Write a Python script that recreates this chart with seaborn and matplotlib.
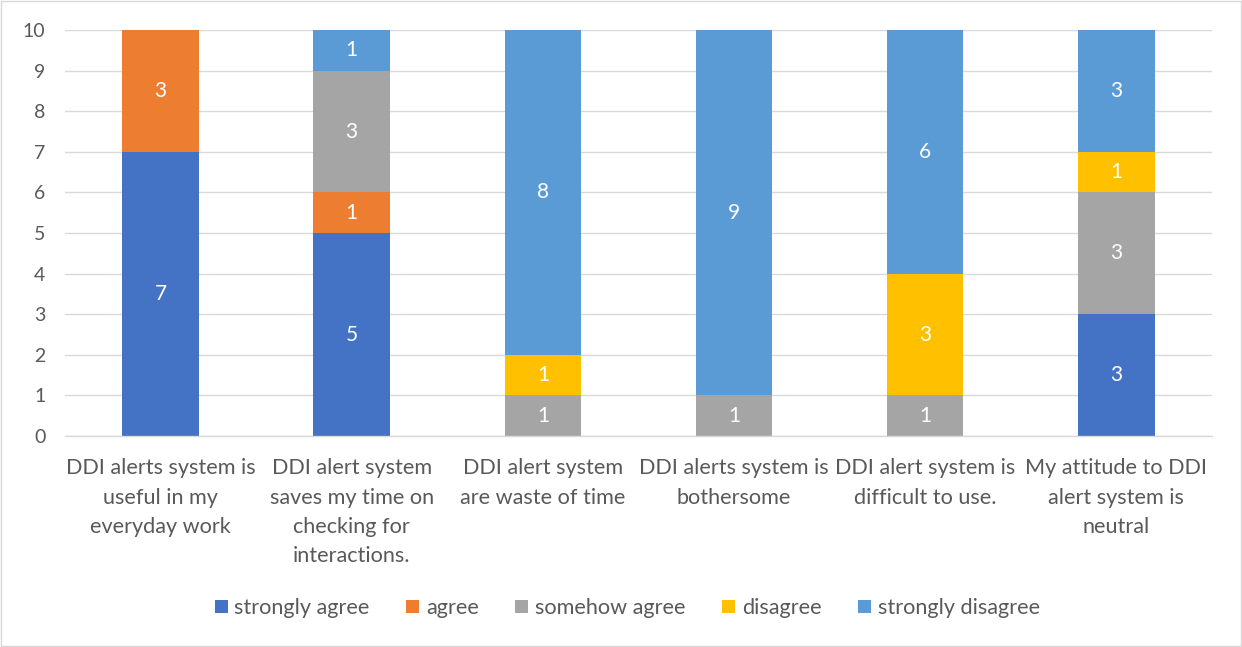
import numpy as np
import pandas as pd
import matplotlib
matplotlib.use("Agg")
import matplotlib.pyplot as plt
from matplotlib.patches import Patch, Rectangle
import seaborn as sns

categories = [
    "DDI alerts system is\nuseful in my\neveryday work",
    "DDI alert system\nsaves my time on\nchecking for\ninteractions.",
    "DDI alert system\nare waste of time",
    "DDI alerts system is\nbothersome",
    "DDI alert system is\ndifficult to use.",
    "My attitude to DDI\nalert system is\nneutral",
]
series_names = ["strongly agree", "agree", "somehow agree", "disagree", "strongly disagree"]
strongly_agree = [7, 5, 0, 0, 0, 3]
agree = [3, 1, 0, 0, 0, 0]
somehow_agree = [0, 3, 1, 1, 1, 3]
disagree = [0, 0, 1, 0, 3, 1]
strongly_disagree = [0, 1, 8, 9, 6, 3]
y_ticks = list(range(0, 11))

colors = ["#4472C4", "#ED7D31", "#A5A5A5", "#FFC000", "#5B9BD5"]
text_color = "#595959"

sns.set_theme(style="white")
plt.rcParams["font.family"] = ["Lato", "DejaVu Sans"]

values = [strongly_agree, agree, somehow_agree, disagree, strongly_disagree]
df = pd.DataFrame({name: vals for name, vals in zip(series_names, values)})
df["category"] = categories
cum = df[series_names].cumsum(axis=1)

fig = plt.figure(figsize=(12.42, 6.47), dpi=100)
ax = fig.add_axes([0.0523, 0.3261, 0.9235, 0.6275])

# Stacked bars: draw cumulative totals from the top segment down
for name, color in reversed(list(zip(series_names, colors))):
    sns.barplot(x=df["category"], y=cum[name], color=color, width=0.4,
                saturation=1, ax=ax, linewidth=0, order=categories)

# Segment value labels
for i in range(len(categories)):
    bottom = 0
    for name in series_names:
        v = df[name].iloc[i]
        if v > 0:
            ax.text(i, bottom + v / 2, f"{v}", ha="center", va="center",
                    color="white", fontsize=15)
        bottom += v

ax.set_ylim(0, 10)
ax.set_xlim(-0.5, 5.5)
ax.set_yticks(y_ticks)
ax.set_xlabel("")
ax.set_ylabel("")
ax.yaxis.grid(True, color="#D9D9D9", linewidth=1)
ax.set_axisbelow(True)
for s in ["top", "right", "left"]:
    ax.spines[s].set_visible(False)
ax.spines["bottom"].set_color("#D9D9D9")
ax.spines["bottom"].set_linewidth(1)
ax.tick_params(axis="both", length=0, colors=text_color)
ax.tick_params(axis="y", pad=14, labelsize=14)
ax.tick_params(axis="x", pad=16, labelsize=15.6)
for lbl in ax.get_xticklabels():
    lbl.set_linespacing(1.58)

handles = [Patch(facecolor=c, edgecolor="none", label=n) for n, c in zip(series_names, colors)]
leg = fig.legend(handles=handles, loc="center", bbox_to_anchor=(0.505, 0.06), ncol=5,
                 frameon=False, fontsize=15.6, handlelength=0.6, handleheight=0.6,
                 handletextpad=0.3, columnspacing=1.7)
for t in leg.get_texts():
    t.set_color(text_color)

# Outer chart border
fig.patches.append(Rectangle((0.001, 0.0015), 0.998, 0.997, transform=fig.transFigure,
                             fill=False, edgecolor="#D9D9D9", linewidth=1))

fig.savefig("out.png", dpi=100, facecolor="white")
